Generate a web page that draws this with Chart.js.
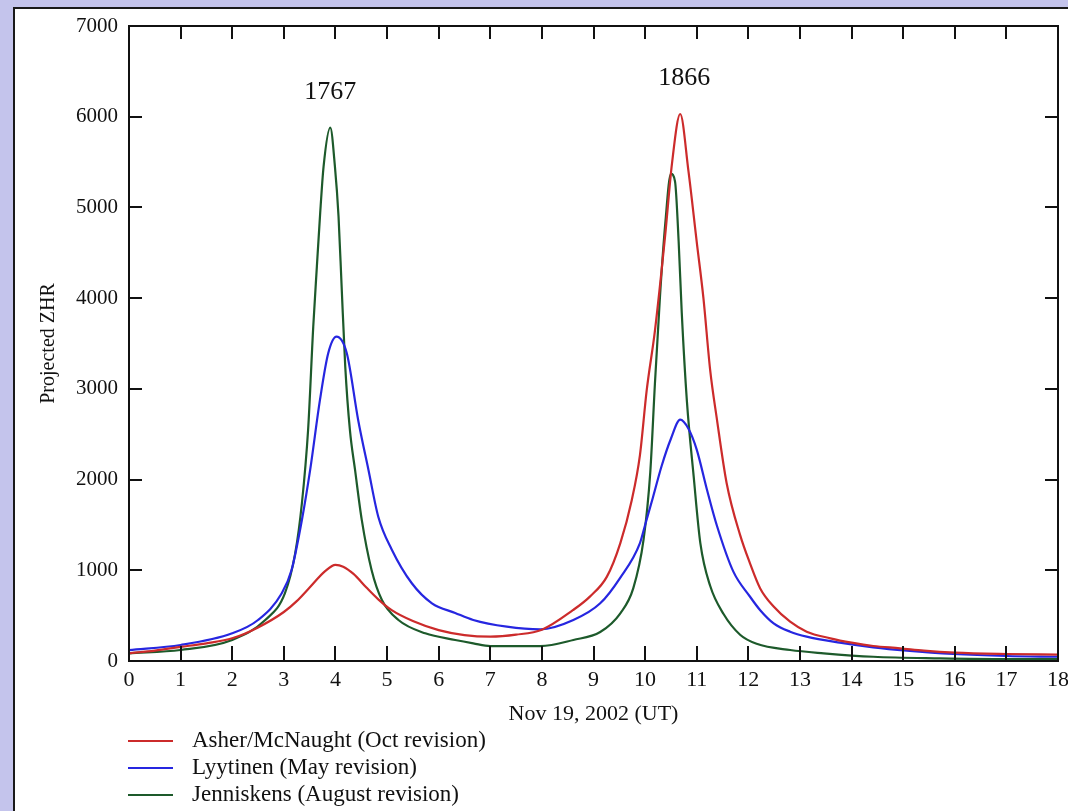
<!DOCTYPE html>
<html><head><meta charset="utf-8">
<script src="https://cdn.jsdelivr.net/npm/chart.js@4.4.1/dist/chart.umd.min.js"></script>
<style>
html,body{margin:0;padding:0;width:1068px;height:811px;overflow:hidden;background:#c4c4ec;}
#panel{position:absolute;left:13px;top:7px;width:1080px;height:830px;background:#fff;border:2px solid #1a1a1a;box-sizing:border-box;}
#c{position:absolute;left:0;top:0;}
</style></head><body>
<div id="panel"></div>
<canvas id="c" width="1068" height="811"></canvas>
<script>
// ---- data ----
const seriesNames = ['Asher/McNaught (Oct revision)', 'Lyytinen (May revision)', 'Jenniskens (August revision)'];
const seriesColors = ['#cc2b2b', '#2626e0', '#1d5a2b'];

const asherX = [0, 0.5, 1, 1.5, 2, 2.5, 3, 3.25, 3.5, 3.8, 4.0, 4.15, 4.35, 4.6, 4.83, 5.09, 5.5, 6, 6.5, 7, 7.5, 8, 8.6, 8.93, 9.26, 9.52, 9.74, 9.9, 10.03, 10.19, 10.39, 10.52, 10.68, 10.84, 11.0, 11.13, 11.26, 11.39, 11.58, 11.84, 12.03, 12.23, 12.49, 12.81, 13.13, 13.59, 14, 14.42, 14.94, 15.4, 16, 17, 18];
const asherY = [85, 115, 155, 195, 250, 370, 540, 660, 810, 990, 1060, 1040, 960, 810, 680, 560, 440, 340, 285, 268, 290, 345, 560, 710, 930, 1300, 1770, 2270, 2980, 3640, 4700, 5480, 6030, 5400, 4620, 4000, 3210, 2670, 1960, 1390, 1080, 800, 600, 433, 323, 250, 202, 165, 140, 114, 92, 77, 70];

const lyytinenX = [0, 1, 2, 2.5, 2.96, 3.15, 3.35, 3.51, 3.7, 3.86, 4.02, 4.22, 4.44, 4.64, 4.83, 5.09, 5.48, 5.87, 6.32, 6.67, 7.32, 7.97, 8.61, 9.13, 9.52, 9.9, 10.0, 10.15, 10.32, 10.5, 10.68, 10.84, 11.0, 11.2, 11.39, 11.71, 12.03, 12.23, 12.49, 12.81, 13.13, 13.77, 14.42, 15.07, 15.97, 17, 18];
const lyytinenY = [120, 176, 305, 452, 746, 1003, 1555, 2106, 2878, 3392, 3575, 3392, 2657, 2106, 1591, 1230, 857, 636, 530, 452, 378, 349, 452, 636, 920, 1300, 1500, 1800, 2150, 2450, 2660, 2560, 2330, 1885, 1494, 985, 711, 560, 415, 323, 268, 202, 151, 114, 77, 55, 47];

const jenniskensX = [0, 1, 2, 2.64, 3.02, 3.22, 3.35, 3.47, 3.57, 3.64, 3.7, 3.77, 3.9, 3.99, 4.06, 4.12, 4.19, 4.28, 4.38, 4.51, 4.7, 4.9, 5.22, 5.74, 6.32, 6.67, 7.0, 7.97, 8.61, 9.13, 9.52, 9.77, 9.97, 10.1, 10.19, 10.29, 10.39, 10.5, 10.58, 10.65, 10.71, 10.81, 10.94, 11.07, 11.26, 11.52, 11.84, 12.16, 12.81, 13.46, 14.42, 15.72, 17, 18];
const jenniskensY = [85, 121, 232, 452, 746, 1187, 1739, 2547, 3686, 4347, 4899, 5450, 5880, 5450, 4899, 4127, 3245, 2547, 2106, 1555, 1003, 672, 452, 305, 232, 195, 165, 165, 232, 320, 526, 800, 1337, 2080, 3057, 4035, 4818, 5370, 5285, 4622, 3840, 2862, 2040, 1300, 829, 518, 290, 190, 121, 85, 47, 30, 22, 22];

const peakLabels = ['1767', '1866'];
const peakLabelX = [3.9, 10.76];
const peakLabelY = [6270, 6430];

const xTickMin = 0, xTickMax = 18, xTickStep = 1;
const yTickMin = 0, yTickMax = 7000, yTickStep = 1000;
const xTitle = 'Nov 19, 2002 (UT)';
const yTitle = 'Projected ZHR';

// ---- build ----
const pts = (xs, ys) => xs.map((x, i) => ({x, y: ys[i]}));
const allX = [asherX, lyytinenX, jenniskensX];
const allY = [asherY, lyytinenY, jenniskensY];

const SERIF = '"Liberation Serif", "Times New Roman", serif';

const framePlugin = {
  id: 'frame',
  afterDatasetsDraw(chart) {
    const {ctx, chartArea: a, scales: {x, y}} = chart;
    ctx.save();
    ctx.strokeStyle = '#111';
    ctx.lineWidth = 2;
    ctx.strokeRect(a.left, a.top, a.right - a.left, a.bottom - a.top);
    ctx.beginPath();
    x.ticks.forEach(t => {
      if (t.value <= x.min || t.value >= x.max) return;
      const p = Math.round(x.getPixelForValue(t.value));
      ctx.moveTo(p, a.bottom); ctx.lineTo(p, a.bottom - 15);
      ctx.moveTo(p, a.top); ctx.lineTo(p, a.top + 13);
    });
    y.ticks.forEach(t => {
      if (t.value <= y.min || t.value >= y.max) return;
      const p = Math.round(y.getPixelForValue(t.value));
      ctx.moveTo(a.left, p); ctx.lineTo(a.left + 13, p);
      ctx.moveTo(a.right, p); ctx.lineTo(a.right - 13, p);
    });
    ctx.stroke();
    ctx.restore();
  }
};

const annotPlugin = {
  id: 'annot',
  afterDraw(chart) {
    const {ctx, scales: {x, y}} = chart;
    ctx.save();
    ctx.fillStyle = '#111';
    ctx.font = '26px ' + SERIF;
    ctx.textAlign = 'center';
    ctx.textBaseline = 'middle';
    peakLabels.forEach((t, i) => {
      ctx.fillText(t, x.getPixelForValue(peakLabelX[i]), y.getPixelForValue(peakLabelY[i]));
    });
    ctx.restore();
  }
};

const legendPlugin = {
  id: 'customLegend',
  afterDraw(chart) {
    const {ctx, chartArea: a} = chart;
    ctx.save();
    ctx.font = '23px ' + SERIF;
    ctx.textBaseline = 'middle';
    ctx.textAlign = 'left';
    chart.data.datasets.forEach((ds, i) => {
      const yy = a.bottom + 80 + i * 27;
      ctx.strokeStyle = ds.borderColor;
      ctx.lineWidth = 2;
      ctx.beginPath();
      ctx.moveTo(a.left - 1, yy); ctx.lineTo(a.left + 44, yy);
      ctx.stroke();
      ctx.fillStyle = '#111';
      ctx.fillText(ds.label, a.left + 63, yy);
    });
    ctx.restore();
  }
};

new Chart(document.getElementById('c'), {
  type: 'line',
  data: {
    datasets: seriesNames.map((name, i) => ({
      label: name,
      data: pts(allX[i], allY[i]),
      borderColor: seriesColors[i],
      backgroundColor: seriesColors[i],
      borderWidth: 2.2,
      pointRadius: 0,
      fill: false,
      cubicInterpolationMode: 'monotone'
    }))
  },
  options: {
    responsive: false,
    devicePixelRatio: 1,
    animation: false,
    layout: {padding: {left: 0, right: 10, top: 26, bottom: 0}},
    plugins: {legend: {display: false}, tooltip: {enabled: false}},
    scales: {
      x: {
        type: 'linear', min: xTickMin, max: xTickMax,
        ticks: {stepSize: xTickStep, color: '#111', font: {family: SERIF, size: 22}, padding: 6, maxRotation: 0, autoSkip: false,
                callback: v => String(v)},
        grid: {display: false, drawTicks: false},
        border: {display: false},
        title: {display: true, text: xTitle, color: '#111', font: {family: SERIF, size: 22}, padding: {top: 0, bottom: 84}},
        afterFit: s => { s.height = 150; s.paddingLeft = 0; s.paddingRight = 0; }
      },
      y: {
        type: 'linear', min: yTickMin, max: yTickMax,
        ticks: {stepSize: yTickStep, color: '#111', font: {family: SERIF, size: 21}, padding: 11,
                callback: v => String(v)},
        grid: {display: false, drawTicks: false},
        border: {display: false},
        title: {display: true, text: yTitle, color: '#111', font: {family: SERIF, size: 20}, padding: {top: 37, bottom: 0}},
        afterFit: s => { s.width = 129; s.paddingTop = 0; s.paddingBottom = 0; }
      }
    }
  },
  plugins: [framePlugin, annotPlugin, legendPlugin]
});
</script>
</body></html>
